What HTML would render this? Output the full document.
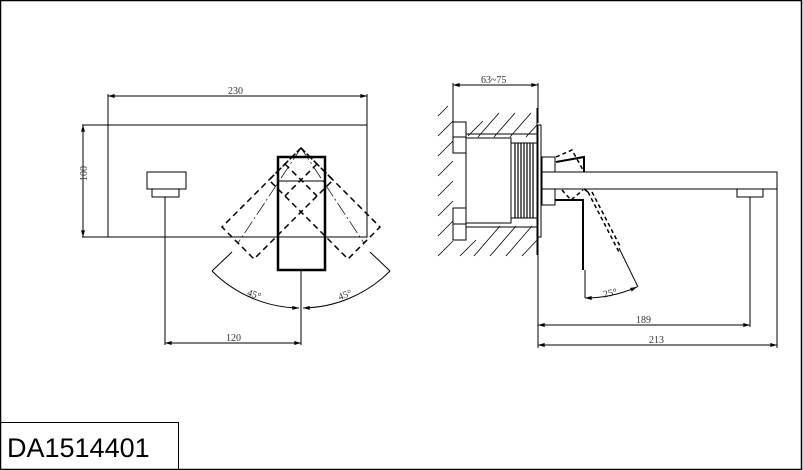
<!DOCTYPE html>
<html><head><meta charset="utf-8"><style>
html,body{margin:0;padding:0;background:#fff;}
svg{display:block;}
text{font-family:"Liberation Serif",serif;font-size:10px;fill:#333;}
</style></head><body>
<svg width="803" height="470" viewBox="0 0 803 470" xmlns="http://www.w3.org/2000/svg">
<defs>
<marker id="a" viewBox="0 0 10 6" refX="10" refY="3" markerWidth="8" markerHeight="4" orient="auto-start-reverse"><path d="M0,0 L10,3 L0,6 z" fill="#000"/></marker>
</defs>
<g fill="none" stroke="#000" stroke-width="1">
<path d="M0.5,0.5 H801.5 V469.5 H0.5 Z" stroke-width="1.5"/>
<rect x="0.5" y="422.5" width="178" height="47"/>

<rect x="108" y="125" width="259" height="112"/>
<line x1="82" y1="237" x2="108" y2="237"/>
<line x1="82" y1="125" x2="108" y2="125"/>
<line x1="108" y1="94" x2="108" y2="125"/>
<line x1="367" y1="94" x2="367" y2="125"/>
<line x1="108" y1="96" x2="367" y2="96" marker-start="url(#a)" marker-end="url(#a)"/>
<line x1="83" y1="125" x2="83" y2="237" marker-start="url(#a)" marker-end="url(#a)"/>
<rect x="147" y="172" width="39" height="17"/>
<rect x="152" y="189" width="27" height="8"/>
<line x1="165" y1="197" x2="165" y2="345"/>
<line x1="301" y1="270" x2="301" y2="345"/>
<line x1="165" y1="343" x2="301" y2="343" marker-start="url(#a)" marker-end="url(#a)"/>
<g stroke-dasharray="6,4" stroke-width="1.5">
<path d="M301,148 L222,227 L254,259 L333,180 Z"/>
<path d="M301,148 L380,227 L348,259 L269,180 Z"/>
<line x1="285" y1="164" x2="317" y2="196"/>
<line x1="317" y1="164" x2="285" y2="196"/>
</g>
<g stroke-width="0.7" stroke-dasharray="14,3,2,3">
<line x1="301" y1="148" x2="238" y2="243"/>
<line x1="301" y1="148" x2="364" y2="243"/>
</g>
<rect x="278" y="157" width="47" height="113" stroke-width="2.5"/>
<line x1="278" y1="181" x2="325" y2="181"/>
<path d="M212,271 A125.5,125.5 0 0 0 299,308" marker-end="url(#a)"/>
<path d="M390,271 A125.5,125.5 0 0 1 303,308" marker-end="url(#a)"/>
<line x1="212" y1="271" x2="232" y2="252"/>
<line x1="390" y1="271" x2="370" y2="252"/>

<g stroke-width="0.8">
<line x1="438" y1="116" x2="448" y2="106"/>
<line x1="438" y1="136" x2="453" y2="121"/>
<line x1="438" y1="156" x2="453" y2="141"/>
<line x1="438" y1="176" x2="453" y2="161"/>
<line x1="438" y1="196" x2="453" y2="181"/>
<line x1="438" y1="216" x2="453" y2="201"/>
<line x1="438" y1="236" x2="453" y2="221"/>
<line x1="438" y1="256" x2="453" y2="241"/>
<line x1="468" y1="136" x2="483" y2="121"/>
<line x1="478" y1="137" x2="499" y2="113"/>
<line x1="494" y1="137" x2="515" y2="113"/>
<line x1="510" y1="137" x2="531" y2="113"/>
<line x1="526" y1="137" x2="537" y2="125"/>
<line x1="460" y1="256" x2="476" y2="240"/>
<line x1="474" y1="256" x2="500" y2="226"/>
<line x1="490" y1="256" x2="516" y2="226"/>
<line x1="506" y1="256" x2="532" y2="226"/>
<line x1="522" y1="256" x2="537" y2="240"/>
</g>
<line x1="453" y1="83" x2="453" y2="125"/>
<line x1="538" y1="83" x2="538" y2="123"/>
<line x1="453" y1="85" x2="538" y2="85" marker-start="url(#a)" marker-end="url(#a)"/>
<line x1="537" y1="108" x2="537" y2="255"/>
<line x1="466" y1="134" x2="537" y2="134"/>
<line x1="466" y1="227" x2="537" y2="227"/>
<rect x="453" y="122" width="13" height="31" fill="#fff"/>
<rect x="453" y="208" width="13" height="32" fill="#fff"/>
<line x1="453" y1="137" x2="466" y2="137"/><line x1="453" y1="224" x2="466" y2="224"/>
<rect x="466" y="138" width="45" height="85" fill="#fff"/>
<rect x="511" y="143" width="26" height="75"/>
<g stroke-width="1.2">
<line x1="515" y1="143" x2="515" y2="218"/><line x1="518" y1="143" x2="518" y2="218"/>
<line x1="521" y1="143" x2="521" y2="218"/><line x1="524" y1="143" x2="524" y2="218"/>
<line x1="527" y1="143" x2="527" y2="218"/><line x1="530" y1="143" x2="530" y2="218"/>
<line x1="533" y1="143" x2="533" y2="218"/>
</g>
<rect x="538" y="125" width="3" height="112"/>
<rect x="542" y="157" width="13" height="48"/>
<rect x="542" y="172" width="235" height="17" fill="#fff"/>
<rect x="737" y="189" width="26" height="8"/>
<path d="M556,162 L584,157 L584,172" stroke-width="2"/>
<path d="M555,200 L583,200 L583,270" stroke-width="2"/>
<path d="M584,189 L588,192" stroke-width="1.5"/>
<g stroke-dasharray="4,3" stroke-width="1.5">
<path d="M556,157 L572,150 L583,170"/>
<path d="M562,190 L571,200 L583,190"/>
<line x1="588" y1="192" x2="619" y2="252"/>
<line x1="592" y1="192" x2="621" y2="248"/>
</g>
<line x1="619" y1="248" x2="638" y2="287"/>
<line x1="585" y1="270" x2="585" y2="298"/>
<path d="M585,298 Q612,298 637,287" marker-start="url(#a)" marker-end="url(#a)"/>
<line x1="538" y1="237" x2="538" y2="348"/>
<line x1="750" y1="197" x2="750" y2="327"/>
<line x1="777" y1="189" x2="777" y2="348"/>
<line x1="538" y1="325" x2="750" y2="325" marker-start="url(#a)" marker-end="url(#a)"/>
<line x1="538" y1="345" x2="777" y2="345" marker-start="url(#a)" marker-end="url(#a)"/>
</g>
<text x="228" y="94">230</text>
<text x="80" y="188" transform="rotate(-90 80 181)">100</text>
<text x="226" y="341">120</text>
<text x="247" y="298" transform="rotate(20 255 295)">45°</text>
<text x="338" y="298" transform="rotate(-20 345 295)">45°</text>
<text x="481" y="83">63~75</text>
<text x="603" y="296" transform="rotate(-12 611 293)">25°</text>
<text x="636" y="323">189</text>
<text x="649" y="343">213</text>
<text x="7" y="457" style="font-family:'Liberation Sans',sans-serif;font-size:27px;fill:#000">DA1514401</text>
</svg>
</body></html>
